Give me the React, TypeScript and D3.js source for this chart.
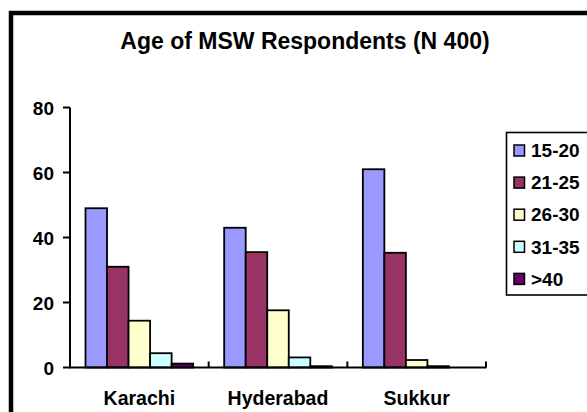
import React from "react";
import * as d3 from "d3";

const categories = ["Karachi", "Hyderabad", "Sukkur"];
const seriesNames = ["15-20", "21-25", "26-30", "31-35", ">40"];
const seriesColors = ["#9999FF", "#993366", "#FFFFCC", "#CCFFFF", "#660066"];
const values15_20 = [49, 43, 61];
const values21_25 = [31, 35.5, 35.3];
const values26_30 = [14.4, 17.6, 2.3];
const values31_35 = [4.4, 3.1, 0.4];
const values40plus = [1.2, 0.4, 0];
const yTicks = [0, 20, 40, 60, 80];
const title = "Age of MSW Respondents (N 400)";

const seriesValues = [values15_20, values21_25, values26_30, values31_35, values40plus];

export default function App() {
  const W = 587;
  const H = 412;
  const font = "'Liberation Sans', Arial, sans-serif";
  const y = d3.scaleLinear().domain([0, 80]).range([367.5, 107.5]);
  const x0 = d3.scaleBand<string>().domain(categories).range([70, 486]).padding(0);
  const bw = x0.bandwidth();
  const gap = 15.5;
  const x1 = d3.scaleBand<string>().domain(seriesNames).range([gap, bw - gap]).padding(0);

  const legendTop = 150.5;
  const legendStep = 32.1;

  return (
    <svg
      width={W}
      height={H}
      style={{ position: "absolute", left: 0, top: 0, display: "block" }}
      fontFamily={font}
    >
      <rect x={0} y={0} width={W} height={H} fill="#fff" />
      <rect x={11} y={13} width={620} height={430} fill="none" stroke="#000" strokeWidth={4.5} />
      <text x={305} y={49} textAnchor="middle" fontSize={23} fontWeight="bold" fill="#000">
        {title}
      </text>

      {/* bars */}
      {categories.map((c, ci) => (
        <g key={c} transform={`translate(${x0(c)},0)`}>
          {seriesNames.map((s, si) => {
            const v = seriesValues[si][ci];
            if (v <= 0) return null;
            const top = y(v);
            return (
              <rect
                key={s}
                x={x1(s)}
                y={top}
                width={x1.bandwidth()}
                height={y(0) - top}
                fill={seriesColors[si]}
                stroke="#000"
                strokeWidth={1.8}
              />
            );
          })}
        </g>
      ))}

      {/* y axis */}
      <line x1={70} x2={70} y1={y(80)} y2={y(0)} stroke="#000" strokeWidth={2} />
      {yTicks.map((t) => (
        <g key={t}>
          <line x1={63} x2={70} y1={y(t)} y2={y(t)} stroke="#000" strokeWidth={2} />
          <text x={54} y={y(t) + 7} textAnchor="end" fontSize={19} fontWeight="bold" fill="#000">
            {t}
          </text>
        </g>
      ))}

      {/* x axis */}
      <line x1={69} x2={486.5} y1={y(0)} y2={y(0)} stroke="#000" strokeWidth={2} />
      {[...categories.map((c) => x0(c) as number), 486].map((xv, i) => (
        <line key={i} x1={xv} x2={xv} y1={y(0) - 6} y2={y(0)} stroke="#000" strokeWidth={2} />
      ))}
      {categories.map((c) => (
        <text
          key={c}
          x={(x0(c) as number) + bw / 2}
          y={405}
          textAnchor="middle"
          fontSize={19.5}
          fontWeight="bold"
          fill="#000"
        >
          {c}
        </text>
      ))}

      {/* legend */}
      <rect x={506.5} y={132.5} width={120} height={162.5} fill="#fff" stroke="#000" strokeWidth={1.6} />
      {seriesNames.map((s, i) => {
        const cy = legendTop + i * legendStep;
        return (
          <g key={s}>
            <rect x={514} y={cy - 5.5} width={10.5} height={11} fill={seriesColors[i]} stroke="#000" strokeWidth={1.5} />
            <text x={531} y={cy + 6.7} fontSize={19} fontWeight="bold" fill="#000">
              {s}
            </text>
          </g>
        );
      })}
    </svg>
  );
}
